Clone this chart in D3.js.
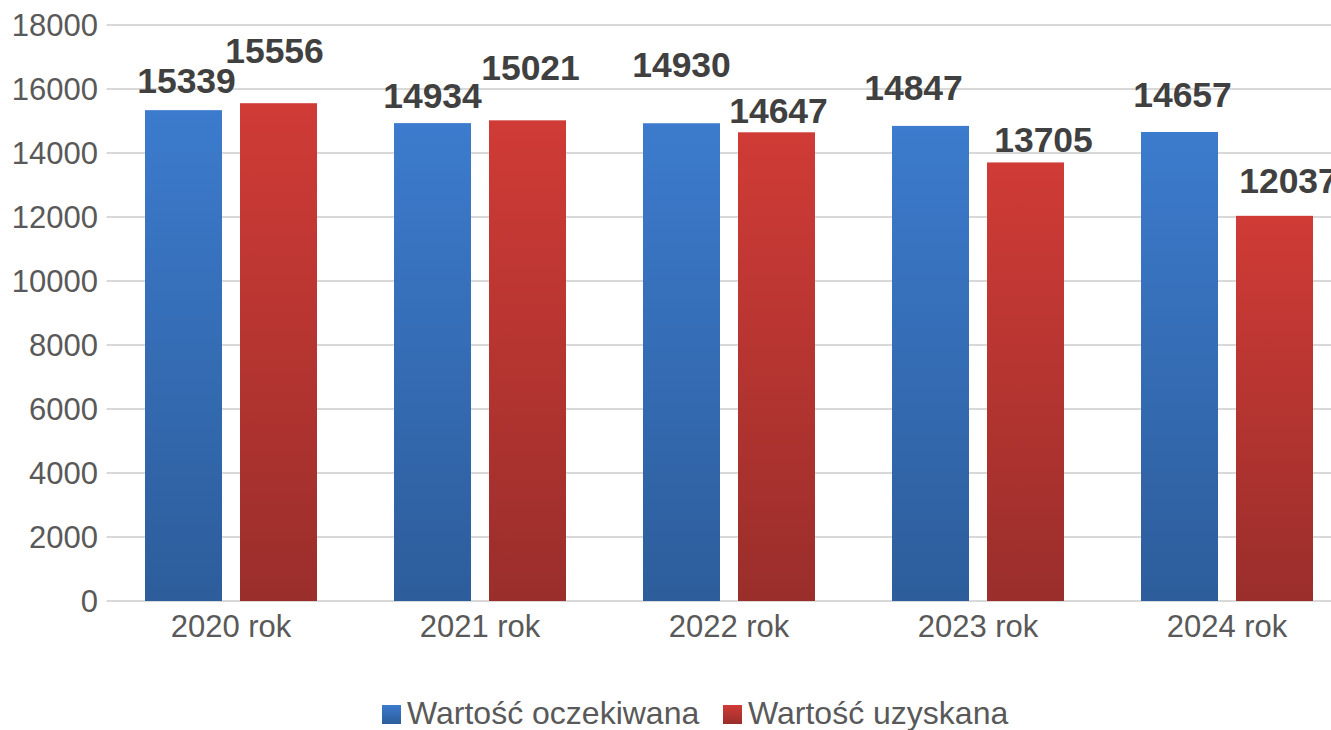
<!DOCTYPE html>
<html>
<head>
<meta charset="utf-8">
<script src="https://cdn.jsdelivr.net/npm/d3@7"></script>
<style>
  html, body { margin: 0; padding: 0; background: #fff; }
  svg { display: block; font-family: "Liberation Sans", Arial, sans-serif; }
</style>
</head>
<body>
<svg id="chart" width="1331" height="730"></svg>
<script>
// data
var years = ["2020 rok", "2021 rok", "2022 rok", "2023 rok", "2024 rok"];
var expected = [15339, 14934, 14930, 14847, 14657];
var obtained = [15556, 15021, 14647, 13705, 12037];
var seriesNames = ["Wartość oczekiwana", "Wartość uzyskana"];
var yTicks = [0, 2000, 4000, 6000, 8000, 10000, 12000, 14000, 16000, 18000];

// label nudges (dx, lift above bar top) - the labels in the original were moved by hand
var labelNudge = [
  [[3, 17], [0, 15], [0, 46], [-17, 26], [3, 25]],
  [[-4, 40], [3, 40], [2, 9], [18, 10], [14, 23]]
];

var width = 1331, height = 730;
var x0 = 106.5, x1 = 1351.5; // plot runs a bit past the right edge
var y0 = 601, y1 = 25;

var svg = d3.select("#chart");

var x = d3.scaleBand().domain(years).range([x0, x1]).paddingInner(0).paddingOuter(0);
var inner = d3.scaleBand().domain([0, 1]).range([38.5, 249 - 38.5]).paddingInner(18 / 95);
var y = d3.scaleLinear().domain([0, 18000]).range([y0, y1]);

// gradients
var defs = svg.append("defs");
var grads = [["#3c7bcd", "#2d5d9b"], ["#d03b36", "#9a2e2b"]];
grads.forEach(function(g, i) {
  var lg = defs.append("linearGradient").attr("id", "g" + i)
    .attr("x1", 0).attr("y1", 0).attr("x2", 0).attr("y2", 1);
  lg.append("stop").attr("offset", "0%").attr("stop-color", g[0]);
  lg.append("stop").attr("offset", "100%").attr("stop-color", g[1]);
});

// grid
svg.append("g").selectAll("line").data(yTicks).join("line")
  .attr("x1", x0).attr("x2", width)
  .attr("y1", function(d) { return y(d); }).attr("y2", function(d) { return y(d); })
  .attr("stroke", "#d9d9d9").attr("stroke-width", 2);

// y axis labels
svg.append("g").selectAll("text").data(yTicks).join("text")
  .attr("x", 98).attr("y", function(d) { return y(d) + 11; })
  .attr("text-anchor", "end").attr("font-size", 31).attr("fill", "#595959")
  .text(function(d) { return d; });

// x axis labels
svg.append("g").selectAll("text").data(years).join("text")
  .attr("x", function(d) { return x(d) + x.bandwidth() / 2; }).attr("y", 637)
  .attr("text-anchor", "middle").attr("font-size", 31).attr("fill", "#595959")
  .text(function(d) { return d; });

// bars
var series = [expected, obtained];
series.forEach(function(vals, s) {
  var g = svg.append("g");
  g.selectAll("rect").data(vals).join("rect")
    .attr("x", function(d, i) { return x(years[i]) + inner(s); })
    .attr("width", inner.bandwidth())
    .attr("y", function(d) { return y(d); })
    .attr("height", function(d) { return y(0) - y(d); })
    .attr("fill", "url(#g" + s + ")");
  g.selectAll("text").data(vals).join("text")
    .attr("x", function(d, i) { return x(years[i]) + inner(s) + inner.bandwidth() / 2 + labelNudge[s][i][0]; })
    .attr("y", function(d, i) { return y(d) - labelNudge[s][i][1]; })
    .attr("text-anchor", "middle").attr("font-size", 35.5).attr("font-weight", "bold")
    .attr("fill", "#404040")
    .text(function(d) { return d; });
});

// legend
var legendX = [382, 723];
seriesNames.forEach(function(name, i) {
  var lg = svg.append("g").attr("transform", "translate(" + legendX[i] + ",705)");
  lg.append("rect").attr("width", 19).attr("height", 19).attr("fill", "url(#g" + i + ")");
  lg.append("text").attr("x", 25).attr("y", 19).attr("font-size", 32).attr("fill", "#595959").text(name);
});
</script>
</body>
</html>
